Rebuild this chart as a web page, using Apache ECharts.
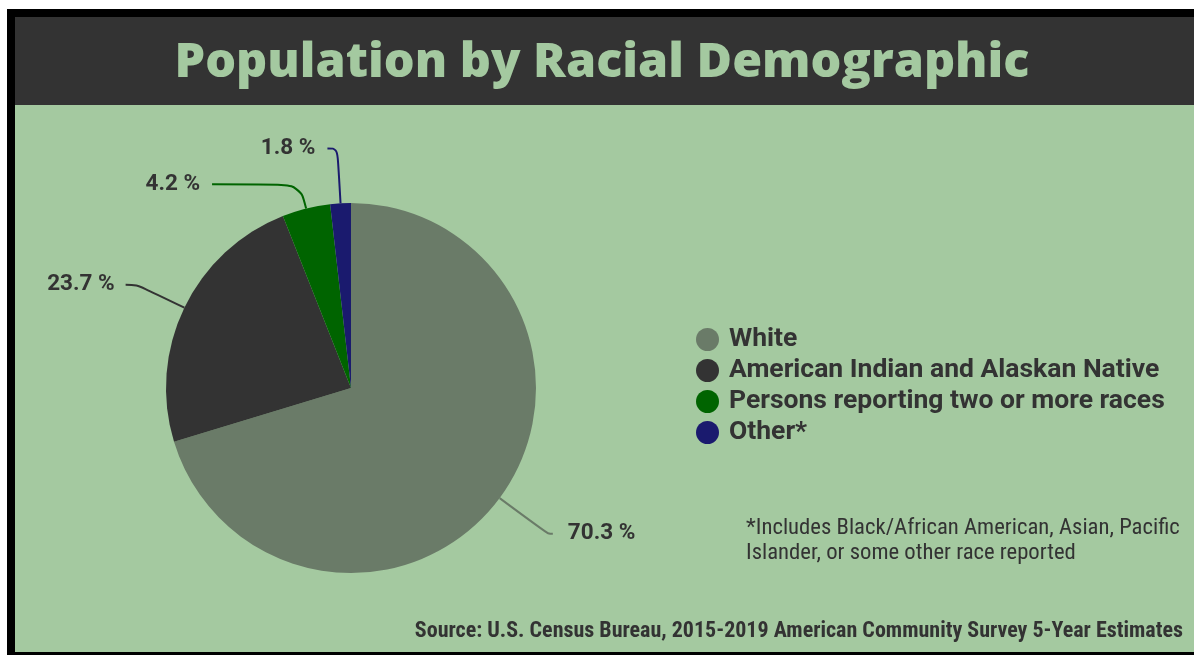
<!DOCTYPE html>
<html>
<head>
<meta charset="utf-8">
<script src="https://cdn.jsdelivr.net/npm/echarts@6/dist/echarts.min.js"></script>
<style>
html,body{margin:0;padding:0;background:#fff;}
#chart{width:1194px;height:655px;}
</style>
</head>
<body>
<div id="chart"></div>
<script>
const titleText = 'Population by Racial Demographic';
const categories = ['White', 'American Indian and Alaskan Native', 'Persons reporting two or more races', 'Other*'];
const values = [70.3, 23.7, 4.2, 1.8];
const footnote = '*Includes Black/African American, Asian, Pacific\nIslander, or some other race reported';
const sourceText = 'Source: U.S. Census Bureau, 2015-2019 American Community Survey 5-Year Estimates';

const colors = ['#6a7b68', '#333333', '#006400', '#1a1a6e'];
const lineLen = [60, 53, 25, 55];
const lineLen2 = [5, 11, 88, 10];
const labelGap = [15, 11, 12, 12];
const GREEN = '#a4c9a0';
const condensed = "'Roboto Condensed','Liberation Sans Narrow',Roboto,sans-serif";

const chart = echarts.init(document.getElementById('chart'), null, {renderer: 'canvas'});

const data = categories.map((name, i) => ({
  name: name,
  value: values[i],
  itemStyle: {color: colors[i]},
  label: {distanceToLabelLine: labelGap[i]},
  labelLine: {length: lineLen[i], length2: lineLen2[i], lineStyle: {color: colors[i], width: 2}}
}));

chart.setOption({
  backgroundColor: '#ffffff',
  animation: false,
  graphic: [
    {type: 'rect', z: -10, shape: {x: 7, y: 9, width: 1187, height: 646}, style: {fill: '#000'}},
    {type: 'rect', z: -9, shape: {x: 15, y: 17, width: 1179, height: 88}, style: {fill: '#333333'}},
    {type: 'rect', z: -9, shape: {x: 15, y: 105, width: 1179, height: 547}, style: {fill: GREEN}},
    {type: 'text', z: 5, style: {
      text: titleText, x: 602, y: 63, textAlign: 'center', textVerticalAlign: 'middle',
      fill: GREEN, font: "800 48.5px 'Open Sans', Lato, sans-serif"
    }},
    {type: 'text', z: 5, style: {
      text: footnote, x: 746, y: 516, textAlign: 'left', textVerticalAlign: 'top',
      fill: '#333', font: "normal 22.7px " + condensed, lineHeight: 25
    }},
    {type: 'text', z: 5, style: {
      text: sourceText, x: 1183, y: 631, textAlign: 'right', textVerticalAlign: 'middle',
      fill: '#333', font: "bold 22px " + condensed
    }}
  ],
  legend: {
    orient: 'vertical', left: 696, top: 326, icon: 'circle',
    itemWidth: 23, itemHeight: 23, itemGap: 4, padding: 0,
    textStyle: {color: '#333', fontSize: 26.5, lineHeight: 26, fontWeight: 'bold', fontFamily: 'Roboto,sans-serif', padding: [0, 0, 0, 5]},
    data: categories
  },
  series: [{
    type: 'pie',
    center: [351, 388],
    radius: [0, 185],
    startAngle: 90,
    clockwise: true,
    avoidLabelOverlap: false,
    label: {
      show: true, formatter: '{c} %', color: '#333', fontSize: 22.5, fontWeight: 'bold',
      fontFamily: 'Roboto,sans-serif'
    },
    labelLine: {show: true, smooth: 0.4},
    emphasis: {disabled: true},
    data: data
  }]
});
</script>
</body>
</html>
